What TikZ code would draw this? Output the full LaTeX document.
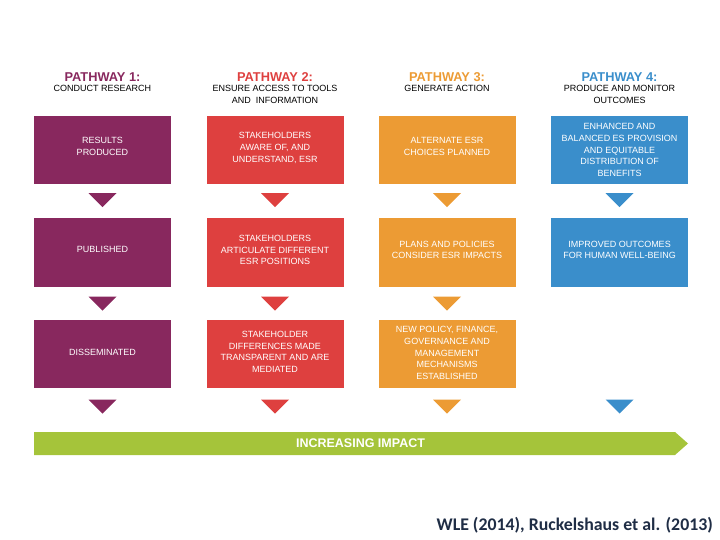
\documentclass[tikz,border=0pt]{standalone}
\usepackage{fontspec}
\setmainfont{Liberation Sans}
\newfontfamily\citefont{Carlito}
\usetikzlibrary{calc}
\definecolor{cpurple}{RGB}{136,40,94}
\definecolor{cred}{RGB}{222,64,63}
\definecolor{corange}{RGB}{236,155,52}
\definecolor{cblue}{RGB}{58,142,203}
\definecolor{cgreen}{RGB}{165,196,58}
\definecolor{cnavy}{RGB}{31,45,69}
\tikzset{
  stepbox/.style={minimum width=137pt, minimum height=68pt, inner sep=0pt},
  steptext/.style={inner sep=0pt, align=center, text=white, font=\fontsize{9}{11.6}\selectfont},
  pathhead/.style={font=\bfseries\fontsize{12.8}{14}\selectfont, inner sep=0pt},
  pathsub/.style={font=\fontsize{9}{11.6}\selectfont, align=center, inner sep=0pt, anchor=north},
}
% name, colour, position, shift, text
\newcommand{\stepnode}[5]{%
  \node[stepbox,fill=#2] (#1) at #3 {};
  \node[steptext] (#1-t) at ($(#1.center)+(0,#4)$) {#5};}
\newcommand{\downtri}[3]{% colour, node, offset
  \fill[#1] ($(#2.south)+(-14,#3)$) -- ++(28,0) -- ++(-14,14) -- cycle;}
\begin{document}
\begin{tikzpicture}[x=1pt,y=-1pt]
\useasboundingbox (0,0) rectangle (720,540);
% headers
\node[pathhead,text=cpurple] (h1) at (102.5,77) {PATHWAY 1:};
\node[pathhead,text=cred] (h2) at (275,77) {PATHWAY 2:};
\node[pathhead,text=corange] (h3) at (447,77) {PATHWAY 3:};
\node[pathhead,text=cblue] (h4) at (619.5,77) {PATHWAY 4:};
\node[pathsub] (s1) at (102.5,85.5) {CONDUCT RESEARCH};
\node[pathsub] (s2) at (275,85.5) {ENSURE ACCESS TO TOOLS\\AND\ \ INFORMATION};
\node[pathsub] (s3) at (447,85.5) {GENERATE ACTION};
\node[pathsub] (s4) at (619.5,85.5) {PRODUCE AND MONITOR\\OUTCOMES};
% boxes
\stepnode{a1}{cpurple}{(102.5,150)}{-3.5}{RESULTS\\PRODUCED}
\stepnode{a2}{cpurple}{(102.5,252.5)}{-3.5}{PUBLISHED}
\stepnode{a3}{cpurple}{(102.5,353.5)}{-1.5}{DISSEMINATED}
\stepnode{b1}{cred}{(275,150)}{-2}{STAKEHOLDERS\\AWARE OF, AND\\UNDERSTAND, ESR}
\stepnode{b2}{cred}{(275,252.5)}{-2.5}{STAKEHOLDERS\\ARTICULATE DIFFERENT\\ESR POSITIONS}
\stepnode{b3}{cred}{(275,353.5)}{-1.5}{STAKEHOLDER\\DIFFERENCES MADE\\TRANSPARENT AND ARE\\MEDIATED}
\stepnode{c1}{corange}{(447,150)}{-3.5}{ALTERNATE ESR\\CHOICES PLANNED}
\stepnode{c2}{corange}{(447,252.5)}{-2.5}{PLANS AND POLICIES\\CONSIDER ESR IMPACTS}
\stepnode{c3}{corange}{(447,353.5)}{-0.5}{NEW POLICY, FINANCE,\\GOVERNANCE AND\\MANAGEMENT\\MECHANISMS\\ESTABLISHED}
\stepnode{d1}{cblue}{(619.5,150)}{0}{ENHANCED AND\\BALANCED ES PROVISION\\AND EQUITABLE\\DISTRIBUTION OF\\BENEFITS}
\stepnode{d2}{cblue}{(619.5,252.5)}{-2.5}{IMPROVED OUTCOMES\\FOR HUMAN WELL-BEING}
\coordinate (d3) at (619.5,387.5);
% triangles
\downtri{cpurple}{a1}{9}
\downtri{cpurple}{a2}{10}
\downtri{cpurple}{a3}{12}
\downtri{cred}{b1}{9}
\downtri{cred}{b2}{10}
\downtri{cred}{b3}{12}
\downtri{corange}{c1}{9}
\downtri{corange}{c2}{10}
\downtri{corange}{c3}{12}
\downtri{cblue}{d1}{9}
\fill[cblue] ($(d3)+(-14,12)$) -- ++(28,0) -- ++(-14,14) -- cycle;
% impact arrow
\fill[cgreen] (34,432) -- (675,432) -- (688,443.5) -- (675,455) -- (34,455) -- cycle;
\node[text=white,font=\bfseries\fontsize{12.5}{14}\selectfont,inner sep=0pt] (imp) at (360.5,443.5) {INCREASING IMPACT};
% citation
\node[anchor=east,text=cnavy,font=\citefont\bfseries\fontsize{17.8}{20}\selectfont,inner sep=0pt] (cite) at (713,525) {WLE (2014), Ruckelshaus et al. (2013)};
\end{tikzpicture}
\end{document}
